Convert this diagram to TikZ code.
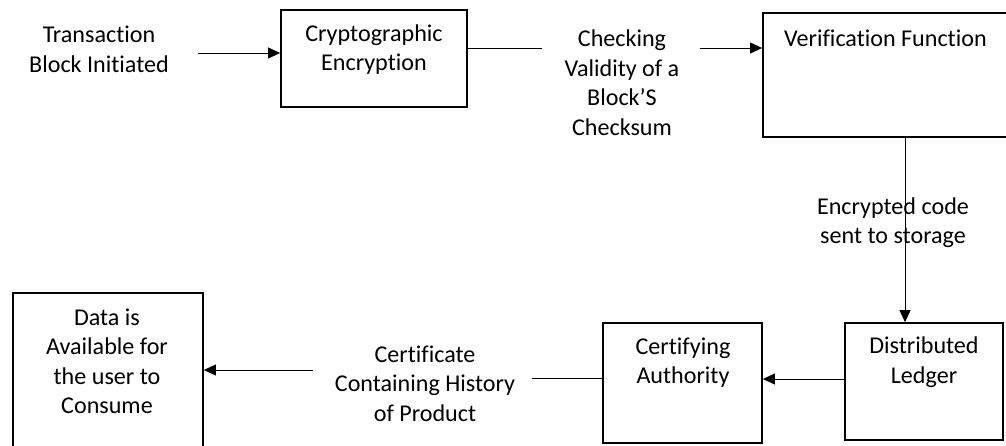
\documentclass[tikz,border=0pt]{standalone}
\usepackage{fontspec}
\setmainfont{Carlito}[Ligatures={NoCommon}]
\usetikzlibrary{arrows.meta}
\begin{document}
\begin{tikzpicture}[x=1pt,y=-1pt,
  txt/.style={align=center,inner sep=0pt,font=\fontsize{24.1}{29.5}\selectfont},
  box/.style={draw,line width=1.8pt,inner sep=0pt},
  ln/.style={line width=1pt},
  arr/.style={line width=1pt,-{Triangle[length=12pt,width=11pt]}}]
\useasboundingbox (0,0) rectangle (1006,445);
% boxes
\node[box,minimum width=186pt,minimum height=97pt] (crypto) at (374,58.5) {};
\node[box,minimum width=249pt,minimum height=124pt] (verif) at (887.5,75) {};
\node[box,minimum width=158pt,minimum height=117pt] (ledger) at (924,381.5) {};
\node[box,minimum width=159pt,minimum height=120pt] (cert) at (682.5,383) {};
\node[box,minimum width=190pt,minimum height=159pt] (data) at (108,372.5) {};
% texts
\node[txt] (start) at (99,49.5) {Transaction\\Block Initiated};
\node[txt] (cryptotxt) at (374,49.5) {Cryptographic\\Encryption};
\node[txt] (check) at (622,82.5) {Checking\\Validity of a\\Block’S\\Checksum};
\node[txt] (veriftxt) at (885.5,38) {Verification Function};
\node[txt] (enc) at (893,222.5) {Encrypted code\\sent to storage};
\node[txt] (ledgertxt) at (924,362) {Distributed\\Ledger};
\node[txt] (certtxt) at (683,362.5) {Certifying\\Authority};
\node[txt] (certificate) at (425,383.5) {Certificate\\Containing History\\of Product};
\node[txt] (datatxt) at (107,361.5) {Data is\\Available for\\the user to\\Consume};
% connector ends
\coordinate (s1) at (198,53);
\coordinate (c1) at (542,48);
\coordinate (c2) at (700,48);
\coordinate (v1) at (905,0);
\coordinate (l1) at (0,379);
\coordinate (k1) at (532,378);
\coordinate (d1) at (313,370);
% connectors
\draw[arr] (s1) -- (crypto.west |- s1);
\draw[ln] (crypto.east |- c1) -- (c1);
\draw[arr] (c2) -- (verif.west |- c2);
\draw[arr] (verif.south -| v1) -- (ledger.north -| v1);
\draw[arr] (ledger.west |- l1) -- (cert.east |- l1);
\draw[ln] (cert.west |- k1) -- (k1);
\draw[arr] (d1) -- (data.east |- d1);
\end{tikzpicture}
\end{document}
